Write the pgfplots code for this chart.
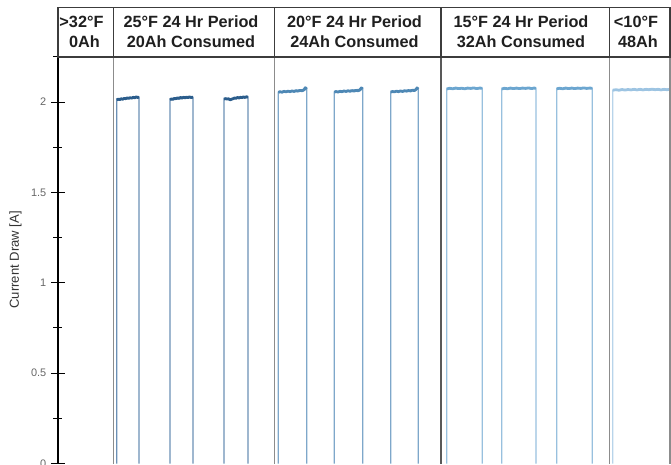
\documentclass[border=0pt]{standalone}
\usepackage{fontspec}
\setmainfont{Liberation Sans}
\usepackage{pgfplots}
\pgfplotsset{compat=1.18}
\usetikzlibrary{calc}
\definecolor{ctop2}{HTML}{2B5D8C}
\definecolor{cedg2}{HTML}{6B90B6}
\definecolor{ctop3}{HTML}{4E88B5}
\definecolor{cedg3}{HTML}{7EA7CA}
\definecolor{ctop4}{HTML}{6CA6D0}
\definecolor{cedg4}{HTML}{98C0DE}
\definecolor{ctop5}{HTML}{9DC4E2}
\definecolor{cedg5}{HTML}{B8D4EA}
\definecolor{tickgray}{HTML}{666666}
\definecolor{labgray}{HTML}{333333}
\definecolor{hdr}{HTML}{3C3C3C}
\definecolor{divgray}{HTML}{8C8C8C}
\begin{document}
\begin{tikzpicture}
\begin{axis}[
  scale only axis, width=459pt, height=304.875pt,
  xmin=58, xmax=670, ymin=0, ymax=2.25,
  axis x line=none, axis y line*=left,
  y axis line style={-, line width=1.5pt, black},
  ytick={0,0.5,1,1.5,2}, minor ytick={0.25,0.75,1.25,1.75,2.25},
  tick align=center, major tick length=10.5pt, minor tick length=6.75pt,
  every tick/.style={black, line width=0.75pt},
  /pgf/number format/assume math mode=true,
  yticklabel style={font=\fontsize{8.2}{10}\selectfont, text=tickgray},
  clip mode=individual,
  e2/.style={color=cedg2, line width=1pt},
  t2/.style={color=ctop2, line width=2.1pt, line join=round},
  e3/.style={color=cedg3, line width=1pt},
  t3/.style={color=ctop3, line width=2.1pt, line join=round},
  e4/.style={color=cedg4, line width=1pt},
  t4/.style={color=ctop4, line width=2.1pt, line join=round},
  e5/.style={color=cedg5, line width=1pt},
  t5/.style={color=ctop5, line width=2.1pt, line join=round},
]
% ---- 25F section ----
\addplot[e2] coordinates {(116.7,0)(116.7,2.012)(139,2.028)(139,0)};
\addplot[t2] coordinates {(116.7,2.012)(118.2,2.017)(119.7,2.014)(121.2,2.019)(122.7,2.016)(124.2,2.021)(125.7,2.019)(127.2,2.024)(128.7,2.021)(130.2,2.025)(131.7,2.022)(133.2,2.027)(134.7,2.024)(136.2,2.029)(137.7,2.026)(139,2.028)};
\addplot[e2] coordinates {(170,0)(170,2.013)(193,2.027)(193,0)};
\addplot[t2] coordinates {(170,2.013)(171.5,2.018)(173,2.016)(174.5,2.021)(176,2.019)(177.5,2.024)(179,2.021)(180.5,2.026)(182,2.023)(183.5,2.027)(185,2.024)(186.5,2.028)(188,2.025)(189.5,2.029)(191,2.026)(193,2.027)};
\addplot[e2] coordinates {(224,0)(224,2.016)(248,2.027)(248,0)};
\addplot[t2] coordinates {(224,2.016)(225.5,2.020)(227,2.017)(228.5,2.019)(230,2.013)(231.5,2.016)(233,2.019)(234.5,2.023)(236,2.021)(237.5,2.026)(239,2.023)(240.5,2.027)(242,2.025)(243.5,2.029)(245,2.026)(246.5,2.030)(248,2.027)};
% ---- 20F section ----
\addplot[e3] coordinates {(278.3,0)(278.3,2.054)(306.7,2.072)(306.7,0)};
\addplot[t3] coordinates {(278.3,2.054)(280,2.058)(282,2.055)(284,2.060)(286,2.057)(288,2.061)(290,2.058)(292,2.062)(294,2.059)(296,2.063)(298,2.061)(300,2.065)(302,2.063)(304,2.068)(305.3,2.080)(306.7,2.072)};
\addplot[e3] coordinates {(334.3,0)(334.3,2.055)(362.7,2.073)(362.7,0)};
\addplot[t3] coordinates {(334.3,2.055)(336,2.059)(338,2.056)(340,2.060)(342,2.058)(344,2.062)(346,2.059)(348,2.063)(350,2.060)(352,2.064)(354,2.061)(356,2.065)(358,2.063)(360,2.068)(361.3,2.079)(362.7,2.073)};
\addplot[e3] coordinates {(390.7,0)(390.7,2.056)(418.3,2.072)(418.3,0)};
\addplot[t3] coordinates {(390.7,2.056)(392.5,2.059)(394.5,2.057)(396.5,2.061)(398.5,2.058)(400.5,2.062)(402.5,2.059)(404.5,2.063)(406.5,2.061)(408.5,2.064)(410.5,2.062)(412.5,2.066)(414.5,2.064)(416,2.070)(417,2.079)(418.3,2.072)};
% ---- 15F section ----
\addplot[e4] coordinates {(446.7,0)(446.7,2.073)(482.3,2.077)(482.3,0)};
\addplot[t4] coordinates {(446.7,2.073)(449.7,2.077)(452.7,2.074)(455.7,2.078)(458.7,2.075)(461.7,2.077)(464.7,2.074)(467.7,2.078)(470.7,2.076)(473.7,2.079)(476.7,2.075)(479.7,2.078)(482.3,2.077)};
\addplot[e4] coordinates {(501.7,0)(501.7,2.073)(536,2.077)(536,0)};
\addplot[t4] coordinates {(501.7,2.073)(504.5,2.077)(507.5,2.074)(510.5,2.078)(513.5,2.075)(516.5,2.078)(519.5,2.075)(522.5,2.078)(525.5,2.076)(528.5,2.079)(531.5,2.075)(534,2.078)(536,2.077)};
\addplot[e4] coordinates {(556.7,0)(556.7,2.074)(592.3,2.077)(592.3,0)};
\addplot[t4] coordinates {(556.7,2.074)(559.7,2.077)(562.7,2.074)(565.7,2.078)(568.7,2.075)(571.7,2.078)(574.7,2.075)(577.7,2.078)(580.7,2.076)(583.7,2.079)(586.7,2.076)(589.7,2.078)(592.3,2.077)};
% ---- 10F section ----
\addplot[e5] coordinates {(612.7,0)(612.7,2.066)(690,2.070)};
\addplot[t5] coordinates {(612.7,2.066)(616,2.069)(619,2.066)(622,2.070)(625,2.067)(628,2.070)(631,2.068)(634,2.071)(637,2.068)(640,2.071)(643,2.068)(646,2.071)(649,2.069)(652,2.072)(655,2.069)(658,2.071)(661,2.068)(664,2.071)(667,2.069)(670,2.071)(690,2.070)};
% ---- dividers and header ----
\draw[divgray, line width=0.8pt] (axis cs:113.5,0) -- (axis cs:113.5,2.25);
\draw[divgray, line width=0.8pt] (axis cs:274.3,0) -- (axis cs:274.3,2.25);
\draw[black!65, line width=1.3pt] (axis cs:441,0) -- (axis cs:441,2.25);
\draw[divgray, line width=0.8pt] (axis cs:609.5,0) -- (axis cs:609.5,2.25);
\draw[divgray, line width=0.8pt] (axis cs:670,0) -- (axis cs:670,2.25);
\draw[hdr, line width=0.8pt] (axis cs:58,2.25) -- (axis cs:58,2.522) -- (axis cs:670,2.522) -- (axis cs:670,2.25) -- cycle;
\draw[hdr, line width=0.8pt] (axis cs:113.5,2.25) -- (axis cs:113.5,2.522);
\draw[hdr, line width=0.8pt] (axis cs:274.3,2.25) -- (axis cs:274.3,2.522);
\draw[hdr, line width=0.8pt] (axis cs:441,2.25) -- (axis cs:441,2.522);
\draw[hdr, line width=0.8pt] (axis cs:609.5,2.25) -- (axis cs:609.5,2.522);
\begin{scope}[every node/.style={anchor=base, inner sep=0pt, font=\bfseries\fontsize{12.2}{14}\selectfont, text=black!88}]
\node at (axis cs:81.5,2.413) {>32°F};
\node at (axis cs:84.5,2.301) {0Ah};
\node at (axis cs:191,2.413) {25°F 24 Hr Period};
\node at (axis cs:191,2.301) {20Ah Consumed};
\node at (axis cs:354.5,2.413) {20°F 24 Hr Period};
\node at (axis cs:354.5,2.301) {24Ah Consumed};
\node at (axis cs:521,2.413) {15°F 24 Hr Period};
\node at (axis cs:521,2.301) {32Ah Consumed};
\node at (axis cs:636,2.413) {<10°F};
\node at (axis cs:638,2.301) {48Ah};
\end{scope}
\node[rotate=90, font=\fontsize{9.8}{11}\selectfont, text=labgray] at (axis cs:15.5,1.127) {Current Draw [A]};
\coordinate (bl) at (rel axis cs:0,0);
\coordinate (tr) at (rel axis cs:1,1);
\end{axis}
\pgfresetboundingbox
\path[use as bounding box] ($(bl)+(-43.5pt,-0.375pt)$) rectangle ($(tr)+(0.75pt,42.75pt)$);
\end{tikzpicture}
\end{document}
